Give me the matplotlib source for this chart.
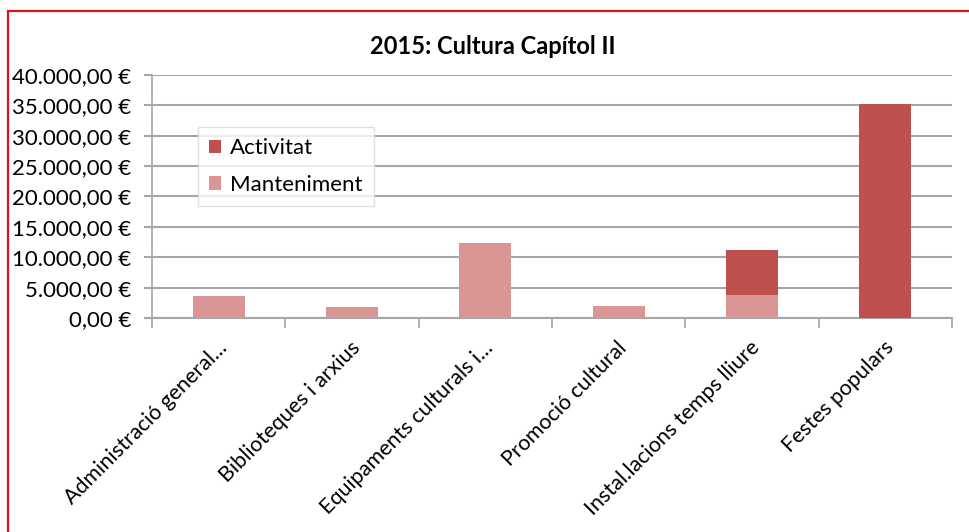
import matplotlib
matplotlib.use("Agg")
import matplotlib.pyplot as plt
from matplotlib.lines import Line2D
from matplotlib.ticker import FuncFormatter, MultipleLocator
from matplotlib.transforms import ScaledTranslation
import numpy as np

categories = ["Administració general...", "Biblioteques i arxius", "Equipaments culturals i...",
              "Promoció cultural", "Instal.lacions temps lliure", "Festes populars"]
manteniment = [3600, 1800, 12300, 2000, 3850, 0]
activitat = [0, 0, 0, 0, 7300, 35300]
title = "2015: Cultura Capítol II"

plt.rcParams['font.family'] = ['Lato', 'DejaVu Sans']

fig = plt.figure(figsize=(9.7, 5.32), dpi=100)
ax = fig.add_axes([152/970, 1-318/532, 800/970, 243/532])

x = np.arange(len(categories))
c_act = '#C0504D'
c_man = '#D99694'
w = 0.39
ax.bar(x, manteniment, width=w, color=c_man, label='Manteniment', zorder=3)
ax.bar(x, activitat, width=w, bottom=manteniment, color=c_act, label='Activitat', zorder=3)

ax.set_xlim(-0.5, len(categories)-0.5)
ax.set_ylim(0, 40000)
ax.yaxis.set_major_locator(MultipleLocator(5000))

def fmt(v, pos):
    s = f"{v:,.2f}".replace(",", "X").replace(".", ",").replace("X", ".")
    return s + " €"
ax.yaxis.set_major_formatter(FuncFormatter(fmt))

grid_c = '#A6A6A6'
ax.grid(axis='y', color=grid_c, linewidth=1.5, zorder=0)
for s in ['top', 'right']:
    ax.spines[s].set_visible(False)
ax.spines['left'].set_color(grid_c)
ax.spines['bottom'].set_color(grid_c)
ax.spines['left'].set_linewidth(1.2)
ax.spines['bottom'].set_linewidth(1.5)
ax.tick_params(axis='y', length=6, color=grid_c, width=1.5, labelsize=16, labelcolor='#000000', pad=9)
ax.set_xticks(np.arange(len(categories)+1) - 0.5, minor=False)
ax.set_xticklabels([])
ax.tick_params(axis='x', which='major', length=7, color=grid_c, width=1.2, direction='out')
ax.set_xticks(x, minor=True)
ax.set_xticklabels(categories, minor=True, rotation=45, ha='right', va='top',
                   rotation_mode='anchor', fontsize=15.5)
ax.tick_params(axis='x', which='minor', length=0, pad=14)
off = ScaledTranslation(-2/100, 0, fig.dpi_scale_trans)
for lab in ax.get_xticklabels(minor=True):
    lab.set_transform(lab.get_transform() + off)

handles, labels = ax.get_legend_handles_labels()
leg = ax.legend(handles[::-1], labels[::-1], loc='upper left', bbox_to_anchor=(46/800, 1-52/243),
                fontsize=16, frameon=True, fancybox=False, handlelength=0.55, handleheight=0.55,
                handletextpad=0.4, labelspacing=0.75, borderpad=0.5, borderaxespad=0)
leg.get_frame().set_edgecolor('#D9D9D9')
leg.get_frame().set_linewidth(1.0)
leg.set_zorder(5)

fig.text(493/970, 1-47/532, title, ha='center', va='center', fontsize=17, fontweight='bold')

red = '#D9141B'
fig.add_artist(Line2D([8/970, 8/970], [0, 1-11/532], transform=fig.transFigure, color=red, linewidth=1.6))
fig.add_artist(Line2D([8/970, 1], [1-11/532, 1-11/532], transform=fig.transFigure, color=red, linewidth=1.6))

fig.savefig("out.png", dpi=100)
